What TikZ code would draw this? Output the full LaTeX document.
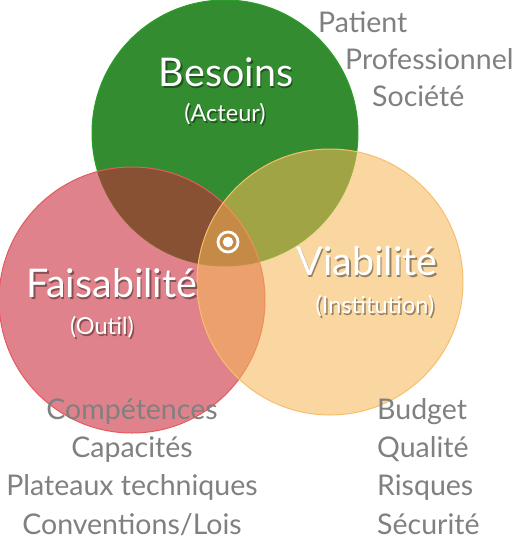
\documentclass[tikz,border=0pt]{standalone}
\usepackage{fontspec}
\setmainfont{Lato}
\usepackage{tikz}
\usetikzlibrary{positioning}
\definecolor{mygreen}{RGB}{52,140,48}
\definecolor{mygreenedge}{RGB}{40,160,40}
\definecolor{myrose}{RGB}{200,40,55}
\definecolor{myroseedge}{RGB}{228,90,95}
\definecolor{myorange}{RGB}{246,184,86}
\definecolor{myorangeedge}{RGB}{248,190,110}
\definecolor{mygrey}{RGB}{128,128,128}
\tikzset{
  setcircle/.style={circle, minimum size=266pt, inner sep=0pt, line width=1pt},
  bigtext/.style={text=white, anchor=base, inner sep=0pt,
    font=\fontsize{39.5}{44}\selectfont},
  subtext/.style={text=white, anchor=base, inner sep=0pt,
    font=\fontsize{23.5}{26}\selectfont},
  ombre/.style={text=black, text opacity=0.4, xshift=1.5pt, yshift=-2pt},
  listtext/.style={text=mygrey, inner sep=0pt, text height=20pt, text depth=6pt,
    font=\fontsize{28.5}{32}\selectfont}
}

\begin{document}
\begin{tikzpicture}[x=1pt, y=-1pt, node distance=12pt]
  \useasboundingbox (0,0) rectangle (526,547);
  % The three sets
  \node[setcircle, fill=mygreen, draw=mygreenedge] (besoins) at (225,133) {};
  \node[setcircle, fill=myrose, fill opacity=0.58, draw=myroseedge] (faisab) at (132,300) {};
  \node[setcircle, fill=myorange, fill opacity=0.56, draw=myorangeedge] (viab) at (330,282) {};

  % Set titles
  \node[bigtext, ombre] at (226,86) {Besoins};
  \node[bigtext] (besoinsT) at (226,86) {Besoins};
  \node[subtext, ombre] at (225,121) {(Acteur)};
  \node[subtext] (acteur) at (225,121) {(Acteur)};
  \node[bigtext, ombre] at (112,297) {Faisabilité};
  \node[bigtext] (faisabT) at (112,297) {Faisabilité};
  \node[subtext, ombre] at (102,334) {(Outil)};
  \node[subtext] (outil) at (102,334) {(Outil)};
  \node[bigtext, ombre] at (367,275) {Viabilité};
  \node[bigtext] (viabT) at (367,275) {Viabilité};
  \node[subtext, ombre] at (375,313) {(Institution)};
  \node[subtext] (instit) at (375,313) {(Institution)};

  % Centre mark
  \node[circle, draw=white, line width=2.8pt, minimum size=20pt, inner sep=0pt] (cible) at (228,242) {};
  \node[circle, fill=white, minimum size=10.5pt, inner sep=0pt] (point) at (cible) {};

  % Actors
  \node[listtext, anchor=base west] (patient) at (318,32) {Patient};
  \node[listtext, below right=11pt and 27pt of patient.south west, anchor=north west] (pro) {Professionnel};
  \node[listtext, below right=11pt and 27pt of pro.south west, anchor=north west] (societe) {Société};

  % Tool
  \node[listtext, anchor=base] (comp) at (132,419) {Compétences};
  \node[listtext, below=of comp] (capa) {Capacités};
  \node[listtext, below=of capa] (plateaux) {Plateaux techniques};
  \node[listtext, below=of plateaux] (conv) {Conventions/Lois};

  % Institution
  \node[listtext, anchor=base west] (budget) at (377,419) {Budget};
  \node[listtext, below=of budget.south west, anchor=north west] (qualite) {Qualité};
  \node[listtext, below=of qualite.south west, anchor=north west] (risques) {Risques};
  \node[listtext, below=of risques.south west, anchor=north west] (securite) {Sécurité};
\end{tikzpicture}
\end{document}
